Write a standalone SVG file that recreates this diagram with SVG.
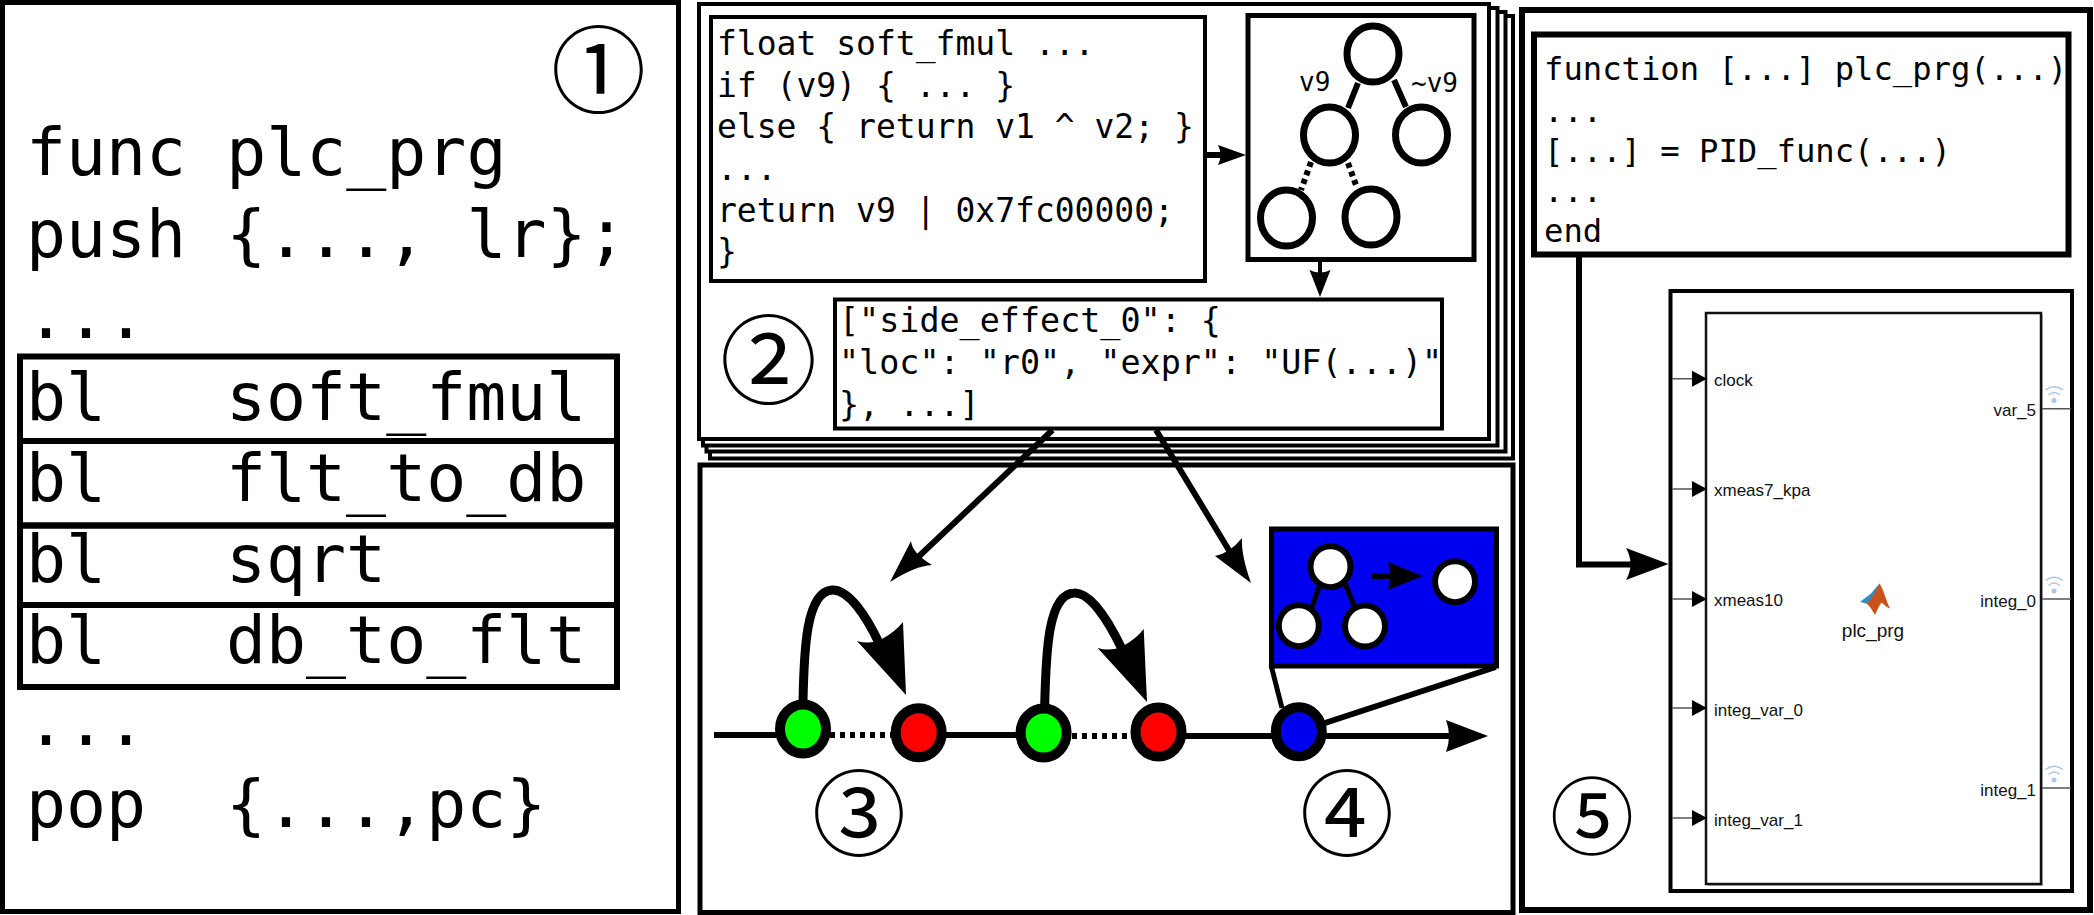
<svg xmlns="http://www.w3.org/2000/svg" width="2094" height="915" viewBox="0 0 2094 915">
<style>
.m{font-family:"DejaVu Sans Mono","Liberation Mono",monospace;fill:#000}
.l{font-size:66.5px}
.s{font-size:33px}
.j{font-size:33.4px}
.f{font-size:32.2px}
.n{font-family:"Noto Sans CJK SC","Noto Sans CJK JP",sans-serif;font-weight:400;fill:#000}
.a{font-family:"Liberation Sans",Arial,sans-serif;font-size:17px;fill:#111}
.b{fill:#fff;stroke:#000}
.w4{stroke-width:4}
.w5{stroke-width:5}
.w6{stroke-width:6}
.ln{fill:none;stroke:#000}
.hd{fill:#000;stroke:none}
.tn{fill:#fff;stroke:#000;stroke-width:7}
.mn{fill:#fff;stroke:#000;stroke-width:6}
.ev{stroke:#000;stroke-width:10}
.pt{stroke:#555;stroke-width:1.5;fill:none}
.wf{fill:none;stroke:#a9c9e8;stroke-width:1.5}
</style>
<rect width="2094" height="915" fill="#fff"/>

<g id="panel1">
<rect class="b w5" x="2.5" y="2.5" width="676" height="909"/>
<text class="n" font-size="95" x="551" y="105.5">①</text>
<g class="m l">
<text x="26" y="175">func plc_prg</text>
<text x="26" y="257">push {..., lr};</text>
<text x="26" y="338">...</text>
<text x="26" y="420">bl <tspan x="226">soft_fmul</tspan></text>
<text x="26" y="501">bl <tspan x="226">flt_to_db</tspan></text>
<text x="26" y="582">bl <tspan x="226">sqrt</tspan></text>
<text x="26" y="663">bl <tspan x="226">db_to_flt</tspan></text>
<text x="26" y="745">...</text>
<text x="26" y="827">pop <tspan x="226">{...,pc}</tspan></text>
</g>
<g fill="none" stroke="#000" stroke-width="6">
<rect x="20" y="356.5" width="597" height="84.5"/>
<rect x="20" y="441" width="597" height="84.5"/>
<rect x="20" y="525.5" width="597" height="79.5"/>
<rect x="20" y="605" width="597" height="82"/>
</g>
</g>

<g id="panel3">
<rect class="b w5" x="700" y="465" width="813" height="447.5"/>
<text class="n" font-size="94" x="812" y="848.5">③</text>
<text class="n" font-size="94" x="1300" y="848.5">④</text>
</g>

<g id="panel2">
<rect class="b w4" x="710" y="16" width="803" height="442.5"/>
<rect class="b w4" x="706.5" y="12" width="799" height="439.5"/>
<rect class="b w4" x="703" y="8" width="794.5" height="437.5"/>
<rect class="b w4" x="699" y="4" width="790" height="435"/>
<text class="n" font-size="97" x="720" y="396">②</text>
</g>

<g id="source-box">
<rect class="b w4" x="711" y="17" width="494" height="264"/>
<g class="m s">
<text x="717" y="55">float soft_fmul ...</text>
<text x="717" y="97">if (v9) { ... }</text>
<text x="717" y="138">else { return v1 ^ v2; }</text>
<text x="717" y="180">...</text>
<text x="717" y="222">return v9 | 0x7fc00000;</text>
<text x="717" y="263">}</text>
</g>
</g>

<g id="tree-box">
<rect class="b w5" x="1248" y="15.5" width="226" height="244"/>
<g class="ln" stroke-width="6">
<path d="M1358 83L1348 108M1394 80L1406 107"/>
<path d="M1311 162L1301 190M1348 163L1356 185" stroke-dasharray="5 4"/>
</g>
<ellipse class="tn" cx="1373" cy="54" rx="26" ry="28"/>
<ellipse class="tn" cx="1329.5" cy="135" rx="26" ry="28"/>
<ellipse class="tn" cx="1421.5" cy="135" rx="26" ry="28"/>
<ellipse class="tn" cx="1286.5" cy="218" rx="26" ry="28"/>
<ellipse class="tn" cx="1371" cy="217" rx="26" ry="28"/>
<text class="m" font-size="26" x="1299" y="91">v9</text>
<text class="m" font-size="26" x="1411" y="92">~v9</text>
</g>

<g id="json-box">
<rect class="b w4" x="835" y="299.5" width="607" height="129"/>
<g class="m j">
<text x="839" y="332">["side_effect_0": {</text>
<text x="839" y="374">"loc": "r0", "expr": "UF(...)"</text>
<text x="839" y="416">}, ...]</text>
</g>
</g>

<g id="panel5">
<rect class="b w6" x="1522" y="10" width="568" height="900"/>
<text class="n" font-size="84" x="1550" y="847.5">⑤</text>
</g>

<g id="matlab-box">
<rect class="b w6" x="1534" y="34.5" width="534.5" height="220"/>
<g class="m f">
<text x="1544" y="80">function [...] plc_prg(...)</text>
<text x="1544" y="122">...</text>
<text x="1544" y="162">[...] = PID_func(...)</text>
<text x="1544" y="202">...</text>
<text x="1544" y="242">end</text>
</g>
</g>

<g id="simulink-block">
<rect class="b w4" x="1670.5" y="291" width="401.5" height="600"/>
<rect x="1708" y="315" width="335" height="571" fill="#bbb"/>
<rect x="1706" y="313" width="335" height="571" fill="#fff" stroke="#111" stroke-width="2.5"/>
<g class="pt">
<path d="M1672 378.7H1694M1672 489H1694M1672 599H1694M1672 708H1694M1672 818H1694"/>
<path d="M2042 408.7H2071M2042 599H2071M2042 788H2071"/>
</g>
<path class="hd" d="M1692 370.7L1707 378.7L1692 386.7ZM1692 481L1707 489L1692 497ZM1692 591L1707 599L1692 607ZM1692 700L1707 708L1692 716ZM1692 810L1707 818L1692 826Z"/>
<g class="a">
<text x="1714" y="385.7">clock</text>
<text x="1714" y="496">xmeas7_kpa</text>
<text x="1714" y="606">xmeas10</text>
<text x="1714" y="715.7">integ_var_0</text>
<text x="1714" y="825.7">integ_var_1</text>
<text x="2036" y="416" text-anchor="end">var_5</text>
<text x="2036" y="606.7" text-anchor="end">integ_0</text>
<text x="2036" y="795.7" text-anchor="end">integ_1</text>
<text x="1873" y="636.7" text-anchor="middle" font-size="19">plc_prg</text>
</g>
<g id="signal-icons">
<g>
<path class="wf" d="M2045.5 390Q2054 383.5 2063 390M2048.5 395Q2054 390 2060 395"/>
<circle cx="2054" cy="400.5" r="2.5" fill="#a9c9e8"/>
</g>
<g transform="translate(0 190.5)">
<path class="wf" d="M2045.5 390Q2054 383.5 2063 390M2048.5 395Q2054 390 2060 395"/>
<circle cx="2054" cy="400.5" r="2.5" fill="#a9c9e8"/>
</g>
<g transform="translate(0 379.5)">
<path class="wf" d="M2045.5 390Q2054 383.5 2063 390M2048.5 395Q2054 390 2060 395"/>
<circle cx="2054" cy="400.5" r="2.5" fill="#a9c9e8"/>
</g>
</g>
<g id="matlab-logo">
<path d="M1860 602L1871 593.5C1874 590 1877 586 1879.5 583.5C1877 592 1873 599 1868 604Z" fill="#2f8ec9"/>
<path d="M1879.5 583.5C1884 590 1886 601 1890 608.5C1886 607.5 1884 604 1881.5 602.5C1879 606 1877 611 1875 615C1872 610 1870 606 1866.5 603.5C1871 600 1876 591 1879.5 583.5Z" fill="#c9531d"/>
</g>
</g>

<g id="blue-box">
<rect x="1271.5" y="529" width="225" height="137" fill="#0000f0" stroke="#000" stroke-width="5"/>
<path class="ln w5" d="M1319 587L1312 607M1345 583L1354.5 607"/>
<ellipse class="mn" cx="1330.5" cy="566.7" rx="20" ry="20.5"/>
<ellipse class="mn" cx="1455" cy="581.7" rx="20" ry="20.5"/>
<ellipse class="mn" cx="1298.8" cy="625.7" rx="20" ry="20.5"/>
<ellipse class="mn" cx="1365" cy="626" rx="20" ry="20.5"/>
<path class="ln w6" d="M1372 576H1395"/>
<path class="hd" d="M1388 562L1423 576L1388 590Q1392 576 1388 562Z"/>
</g>

<g id="connectors">
<path class="ln w6" d="M1206 155H1225"/>
<path class="hd" d="M1218 145L1246 155L1218 165Q1223 155 1218 145Z"/>
<path class="ln w4" d="M1320 261V280"/>
<path class="hd" d="M1309.5 270L1320 297L1330.5 270Q1320 275 1309.5 270Z"/>
<path class="ln w6" d="M1052.5 430L915 560"/>
<path class="hd" d="M890 582L911 541Q912 553 932 565Q915 566 890 582Z"/>
<path class="ln w6" d="M1156 430L1230 552"/>
<path class="hd" d="M1251 583L1215 556Q1230 553 1242 538Q1241 555 1251 583Z"/>
<path class="ln w6" d="M1579 257V564.5H1640"/>
<path class="hd" d="M1626 548L1668.5 564L1626 580Q1635 564 1626 548Z"/>
<path class="ln w6" d="M714 735H780M940 735H1020M1180 736H1280"/>
<path class="ln w6" d="M1320 736H1460"/>
<path class="hd" d="M1446 720L1488 736L1446 752Q1452 736 1446 720Z"/>
<path class="ln w6" d="M830 735H891M1072 736H1130" stroke-dasharray="5 5"/>
<path class="ln" stroke-width="9" d="M803 702C804 650 806 592 832 590C848 589 866 615 880 645"/>
<path class="hd" d="M906 695L857 641Q870 645 882 639Q895 632 903 622Z"/>
<path class="ln" stroke-width="9" d="M1044.7 705C1046 652 1048 594 1074 593C1090 592 1108 620 1121.5 648"/>
<path class="hd" d="M1147 702L1097.6 648Q1111 652 1123 646Q1136 639 1143.7 629Z"/>
<path class="ln w5" d="M1271 665L1282 708"/>
<path class="ln w6" d="M1495.7 667L1325 723"/>
</g>

<g id="timeline-nodes">
<ellipse class="ev" cx="803" cy="729" rx="23" ry="24.5" fill="#00ff00"/>
<ellipse class="ev" cx="918.7" cy="732.7" rx="23" ry="24.5" fill="#ff0000"/>
<ellipse class="ev" cx="1043.6" cy="733" rx="23" ry="24.5" fill="#00ff00"/>
<ellipse class="ev" cx="1158.5" cy="732" rx="23" ry="24.5" fill="#ff0000"/>
<ellipse class="ev" cx="1298.8" cy="731.7" rx="23" ry="24.5" fill="#0000f0"/>
</g>
</svg>
